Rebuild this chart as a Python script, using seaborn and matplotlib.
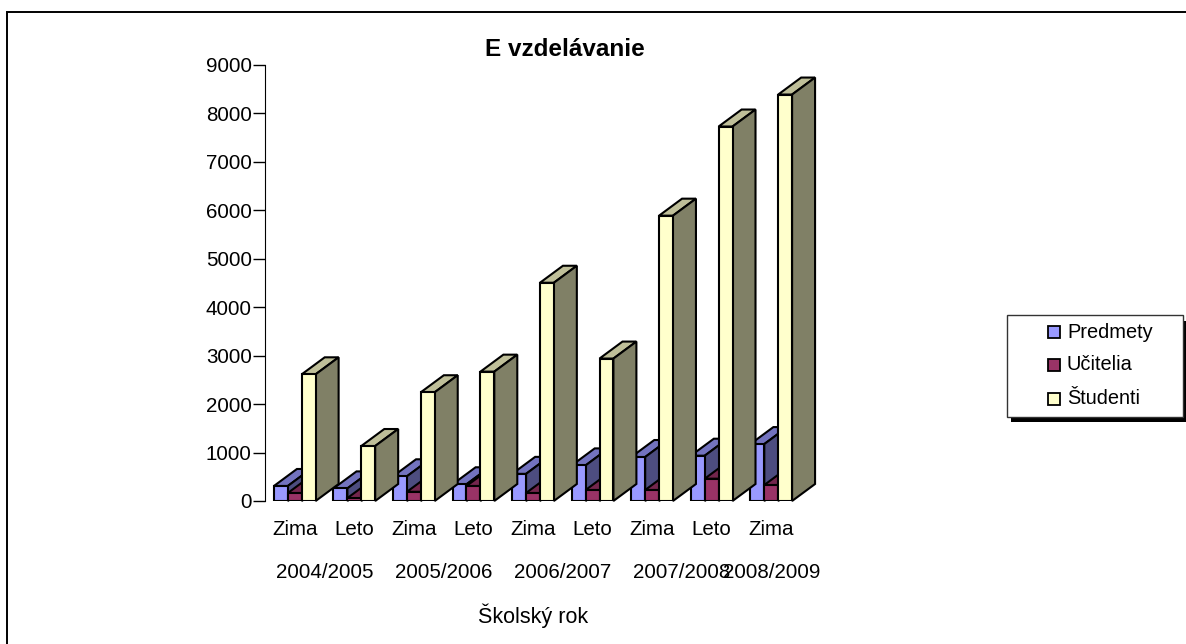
#!/usr/bin/env python3
"""E vzdelavanie: fake 3D clustered bars, seaborn bars plus extruded faces."""

import matplotlib
matplotlib.use("Agg")
import matplotlib.pyplot as plt
from matplotlib.colors import to_rgb
from matplotlib.lines import Line2D
from matplotlib.patches import Polygon, Rectangle
import numpy as np
import pandas as pd
import seaborn as sns

semesters = ["Zima", "Leto", "Zima", "Leto", "Zima", "Leto", "Zima", "Leto", "Zima"]
years = ["2004/2005", "2005/2006", "2006/2007", "2007/2008", "2008/2009"]
year_slots = [[0, 1], [2, 3], [4, 5], [6, 7], [8]]
predmety = [310, 260, 510, 345, 560, 735, 908, 935, 1175]
ucitelia = [165, 60, 190, 310, 165, 227, 227, 460, 330]
studenti = [2615, 1135, 2245, 2670, 4505, 2940, 5890, 7730, 8390]
series_names = ["Predmety", "Učitelia", "Študenti"]
colors = ["#9999FF", "#993366", "#FFFFCC"]

W, H = 1186, 644


def shade(color, factor):
    return tuple(c * factor for c in to_rgb(color))


def extrude(ax, depth_x, depth_y):
    """Add top and side faces to every bar, later series painted on top."""
    for i, (container, color) in enumerate(zip(ax.containers, colors)):
        for bar in container:
            x0, x1 = bar.get_x(), bar.get_x() + bar.get_width()
            h = bar.get_height()
            top = [(x0, h), (x1, h), (x1 + depth_x, h + depth_y), (x0 + depth_x, h + depth_y)]
            side = [(x1, 0), (x1 + depth_x, depth_y), (x1 + depth_x, h + depth_y), (x1, h)]
            ax.add_patch(Polygon(top, fc=shade(color, 0.75), ec="black", lw=1.5,
                                 zorder=3 + i, clip_on=False))
            ax.add_patch(Polygon(side, fc=shade(color, 0.5), ec="black", lw=1.5,
                                 zorder=3 + i, clip_on=False))
            bar.set_zorder(3.5 + i)


df = pd.DataFrame({
    "slot": list(range(len(semesters))) * 3,
    "series": [n for n in series_names for _ in semesters],
    "value": predmety + ucitelia + studenti,
})

plt.rcParams["font.family"] = ["Liberation Sans", "DejaVu Sans"]
fig = plt.figure(figsize=(W / 100, H / 100), dpi=100)

# chart frame, only top and left fit in the image
fig.add_artist(Line2D([7 / W, 7 / W, 1], [0, 1 - 12 / H, 1 - 12 / H], transform=fig.transFigure,
                      color="black", lw=1.4, solid_joinstyle="miter"))

left, right, top_px, bottom_px = 265, 801, 65, 501
ax = fig.add_axes([left / W, 1 - bottom_px / H, (right - left) / W, (bottom_px - top_px) / H])
ax.patch.set_alpha(0)
sns.barplot(data=df, x="slot", y="value", hue="series", hue_order=series_names,
            palette=colors, saturation=1, width=0.7, gap=0, dodge=True, legend=False,
            edgecolor="black", linewidth=1.5, ax=ax)
ax.set_xlim(-0.5, 8.5)
ax.set_ylim(0, 9000)
ax.set_yticks(range(0, 9001, 1000))
ax.tick_params(axis="y", length=9, width=1, labelsize=14.8, pad=0.5)
ax.tick_params(axis="x", length=0, labelsize=14.8, pad=13.5)
ax.set_xticks(range(len(semesters)))
ax.set_xticklabels(semesters)
ax.set_xlabel("")
ax.set_ylabel("")
for s in ["top", "right", "bottom"]:
    ax.spines[s].set_visible(False)
extrude(ax, 23 / 59.56, 17 / 48.44 * 1000)

# year label sits in the middle of its semesters
trans = ax.get_xaxis_transform()
for year, slots in zip(years, year_slots):
    ax.text(np.mean(slots), (bottom_px - 572.5) / (bottom_px - top_px), year,
            transform=trans, ha="center", va="center", fontsize=14.8, clip_on=False, zorder=8)

fig.text(533 / W, 1 - 616 / H, "Školský rok", ha="center", va="center", fontsize=15.5)
fig.text(565 / W, 1 - 50 / H, "E vzdelávanie", ha="center", va="center", fontsize=17.5,
         fontweight="bold")

# legend box with hard shadow, drawn by hand like the old Excel one
fig.add_artist(Rectangle((1011 / W, 1 - 422 / H), 175 / W, 101 / H, transform=fig.transFigure,
                         fc="black", ec="black", lw=0))
fig.add_artist(Rectangle((1007 / W, 1 - 417 / H), 176 / W, 102 / H, transform=fig.transFigure,
                         fc="white", ec="#333333", lw=1))
for name, color, y in zip(series_names, colors, [332, 365, 399]):
    fig.add_artist(Rectangle((1048 / W, 1 - (y + 6) / H), 12 / W, 12 / H, transform=fig.transFigure,
                             fc=color, ec="black", lw=1.3))
    fig.text(1067 / W, 1 - y / H, name, ha="left", va="center", fontsize=14.4)

fig.savefig("out.png", dpi=100)
plt.close(fig)
